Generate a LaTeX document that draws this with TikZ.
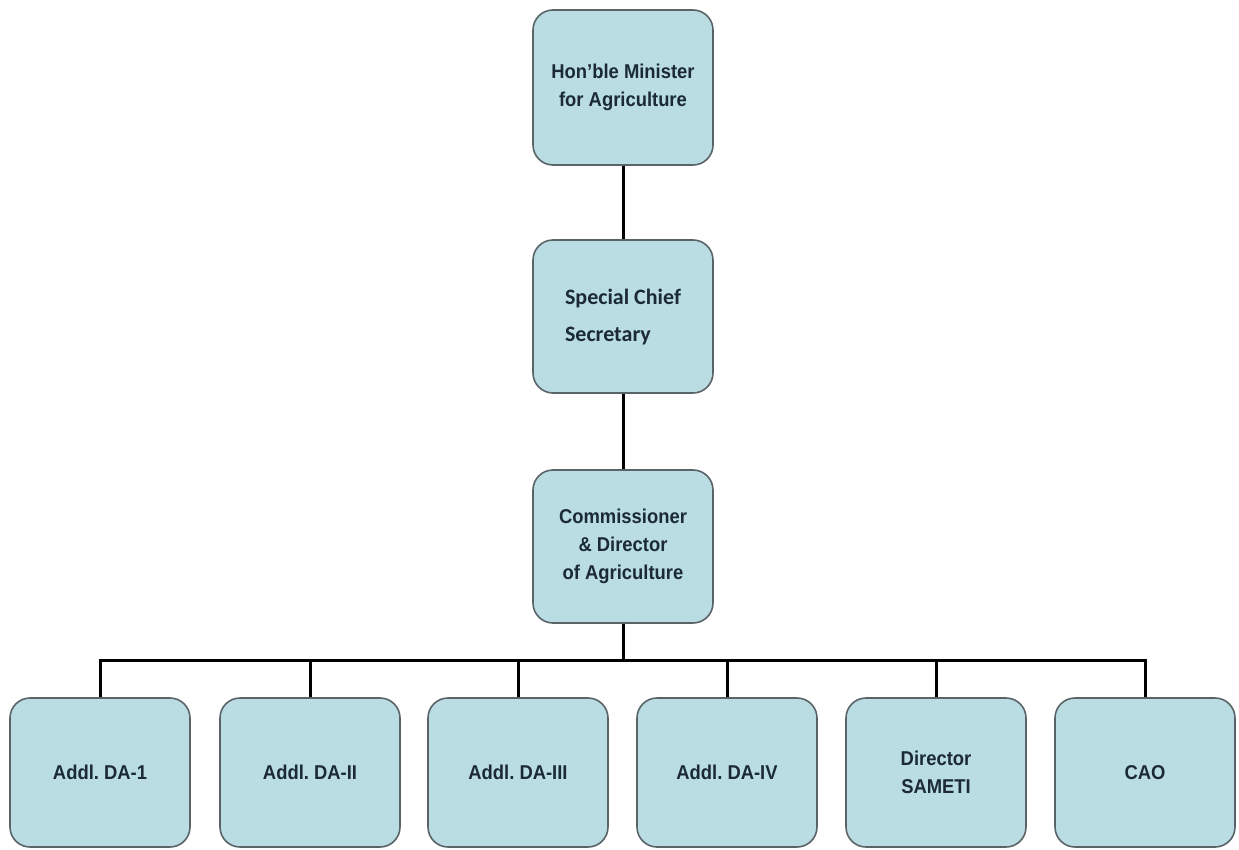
\documentclass[tikz,border=0pt]{standalone}
\usepackage{fontspec}
\setmainfont[FakeStretch=0.92]{Liberation Sans}
\newfontfamily\calib{Carlito}
\definecolor{boxfill}{HTML}{B9DDE2}
\definecolor{boxline}{HTML}{5A6468}
\definecolor{txt}{HTML}{1B2A36}
\frenchspacing
\begin{document}
\begin{tikzpicture}[x=1pt,y=-1pt,
  orgbox/.style={draw=boxline,line width=1.6pt,fill=boxfill,rounded corners=20pt,
    minimum width=180pt,inner sep=0pt,align=center,text=txt,
    font=\fontsize{20}{28}\selectfont\bfseries},
  conn/.style={draw=black,line width=3pt}]
\useasboundingbox (0,0) rectangle (1239,850);
\node[orgbox,minimum height=155pt] (min) at (623,87.5) {Hon'ble Minister\\for Agriculture};
\node[orgbox,minimum height=153pt] (scs) at (623,316.5) {};
\node[align=left,text=txt,font=\calib\fontsize{22}{37}\selectfont\bfseries,inner sep=0pt] (scst) at (623,317) {Special Chief\\Secretary};
\node[orgbox,minimum height=153pt] (com) at (623,546.5) {Commissioner\\\& Director\\of Agriculture};
\coordinate (bar) at (623,660);
\node[orgbox,minimum height=149pt] (b1) at (100,772.5) {Addl. DA-1};
\node[orgbox,minimum height=149pt] (b2) at (310,772.5) {Addl. DA-II};
\node[orgbox,minimum height=149pt] (b3) at (518,772.5) {Addl. DA-III};
\node[orgbox,minimum height=149pt] (b4) at (727,772.5) {Addl. DA-IV};
\node[orgbox,minimum height=149pt] (b5) at (936,772.5) {Director\\SAMETI};
\node[orgbox,minimum height=149pt] (b6) at (1145,772.5) {CAO};
\draw[conn] (min.south) -- (scs.north);
\draw[conn] (scs.south) -- (com.north);
\draw[conn] (com.south) -- (bar);
\draw[conn] (b1.north) -- (b1.north |- bar) -- (b6.north |- bar) -- (b6.north);
\foreach \b in {b2,b3,b4,b5}{\draw[conn] (\b.north |- bar) -- (\b.north);}
\end{tikzpicture}
\end{document}
